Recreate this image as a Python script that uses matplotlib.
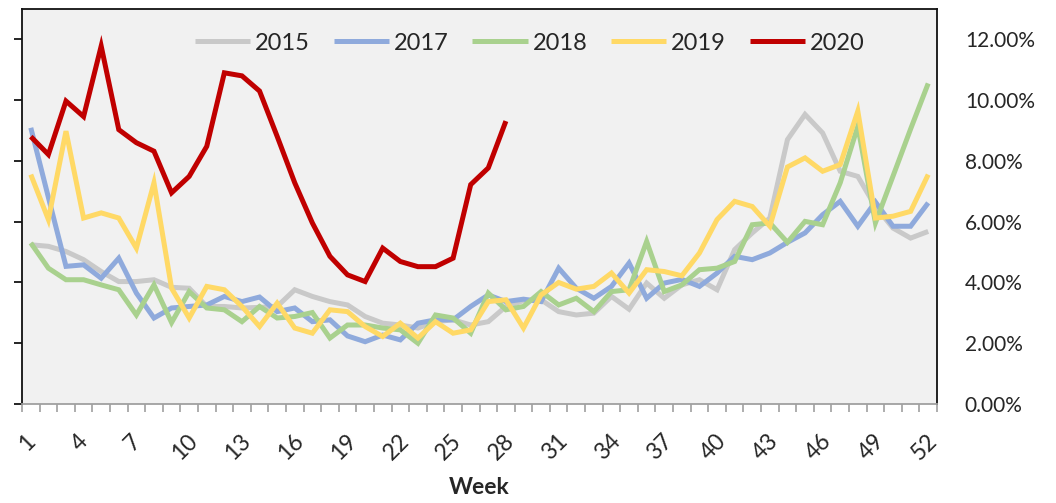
import matplotlib
matplotlib.use("Agg")
import matplotlib.pyplot as plt
import matplotlib.transforms as mtransforms
from matplotlib.ticker import FixedLocator, FuncFormatter

plt.rcParams['font.family'] = ['Lato', 'DejaVu Sans']

weeks = list(range(1, 53))

y2015 = [5.24, 5.19, 5.02, 4.75, 4.36, 4.03, 4.03, 4.09, 3.84, 3.81,
         3.21, 3.21, 3.16, 3.18, 3.21, 3.76, 3.54, 3.37, 3.26, 2.88,
         2.66, 2.60, 2.50, 2.71, 2.77, 2.60, 2.71, 3.21, 3.40, 3.43,
         3.04, 2.93, 2.99, 3.54, 3.12, 3.98, 3.48, 3.92, 4.09, 3.76,
         5.08, 5.63, 6.12, 8.70, 9.53, 8.92, 7.66, 7.49, 6.50, 5.79,
         5.46, 5.68]
y2017 = [9.09, 6.80, 4.53, 4.58, 4.14, 4.80, 3.65, 2.83, 3.16, 3.21,
         3.26, 3.54, 3.37, 3.52, 3.04, 3.16, 2.71, 2.77, 2.24, 2.05,
         2.27, 2.11, 2.66, 2.77, 2.77, 3.21, 3.59, 3.37, 3.45, 3.37,
         4.47, 3.81, 3.48, 3.87, 4.64, 3.48, 3.98, 4.10, 3.87, 4.31,
         4.86, 4.75, 4.97, 5.32, 5.63, 6.23, 6.67, 5.85, 6.65, 5.85,
         5.85, 6.62]
y2018 = [5.30, 4.47, 4.09, 4.09, 3.92, 3.76, 2.93, 3.92, 2.68, 3.70,
         3.16, 3.10, 2.71, 3.21, 2.83, 2.88, 3.01, 2.17, 2.60, 2.60,
         2.50, 2.44, 2.00, 2.93, 2.83, 2.33, 3.65, 3.10, 3.21, 3.70,
         3.26, 3.48, 3.04, 3.70, 3.76, 5.35, 3.70, 3.92, 4.42, 4.47,
         4.69, 5.90, 5.96, 5.32, 6.01, 5.90, 7.28, 9.14, 5.96, 7.50,
         9.05, 10.55]
y2019 = [7.55, 6.07, 8.98, 6.12, 6.29, 6.12, 5.13, 7.28, 3.81, 2.83,
         3.87, 3.76, 3.21, 2.55, 3.32, 2.50, 2.33, 3.10, 3.04, 2.55,
         2.22, 2.66, 2.17, 2.71, 2.33, 2.44, 3.37, 3.43, 2.50, 3.59,
         4.00, 3.78, 3.87, 4.31, 3.65, 4.42, 4.36, 4.22, 4.97, 6.07,
         6.67, 6.50, 5.85, 7.80, 8.10, 7.66, 7.88, 9.64, 6.12, 6.18,
         6.34, 7.55]
y2020 = [8.80, 8.21, 9.97, 9.46, 11.78, 9.03, 8.60, 8.32, 6.95, 7.49,
         8.48, 10.90, 10.80, 10.30, 8.81, 7.28, 5.96, 4.86, 4.25, 4.03,
         5.13, 4.69, 4.52, 4.52, 4.80, 7.22, 7.77, 9.31]

series = [("2015", y2015, "#C9C9C9"),
          ("2017", y2017, "#8FAADC"),
          ("2018", y2018, "#A9D18E"),
          ("2019", y2019, "#FFD966"),
          ("2020", y2020, "#C00000")]

fig = plt.figure(figsize=(10.56, 5.03), dpi=100)
ax = fig.add_axes([22/1056, 1 - 404/503, (937 - 22)/1056, (404 - 9)/503])
ax.set_facecolor("#F1F1F1")

for name, vals, col in series:
    ax.plot(weeks[:len(vals)], vals, color=col, lw=3.6, label=name,
            solid_joinstyle='miter', solid_capstyle='butt')

ax.set_xlim(0.5, 52.5)
ax.set_ylim(0, 13)

ax.yaxis.set_major_locator(FixedLocator([0, 2, 4, 6, 8, 10, 12]))
ax.yaxis.set_major_formatter(FuncFormatter(lambda v, p: f"{v:.2f}%"))
ax.tick_params(axis='y', which='major', left=True, right=False,
               labelleft=False, labelright=True, direction='out',
               length=6, width=1.2, color='black', labelsize=15,
               pad=14, labelcolor='#262626')

ax.xaxis.set_major_locator(FixedLocator(list(range(1, 53, 3))))
ax.xaxis.set_major_formatter(FuncFormatter(lambda v, p: f"{int(round(v))}"))
ax.xaxis.set_minor_locator(FixedLocator([w + 0.5 for w in range(0, 53)]))
ax.tick_params(axis='x', which='major', length=0, labelsize=16.5, pad=19,
               labelcolor='#262626')
ax.tick_params(axis='x', which='minor', length=6, width=1.2, color='#A0A0A0',
               direction='out')
shift = mtransforms.ScaledTranslation(-4/100, 0, fig.dpi_scale_trans)
for lab in ax.get_xticklabels():
    lab.set_rotation(45)
    lab.set_ha('center')
    lab.set_transform(lab.get_transform() + shift)

for side in ['left', 'top', 'right']:
    ax.spines[side].set_color('#111111')
    ax.spines[side].set_linewidth(1.3)
ax.spines['bottom'].set_color('#A0A0A0')
ax.spines['bottom'].set_linewidth(1.3)

ax.set_xlabel("Week", fontsize=16.5, fontweight='bold', labelpad=9,
              color='#262626')

leg = fig.legend(loc='center left', bbox_to_anchor=(195/1056, 1 - 43/503),
                 ncol=5, frameon=False, fontsize=17, handlelength=2.35,
                 handletextpad=0.2, columnspacing=1.0, borderpad=0,
                 borderaxespad=0)
for t in leg.get_texts():
    t.set_color('#262626')

fig.savefig("out.png", dpi=100, facecolor='white')
